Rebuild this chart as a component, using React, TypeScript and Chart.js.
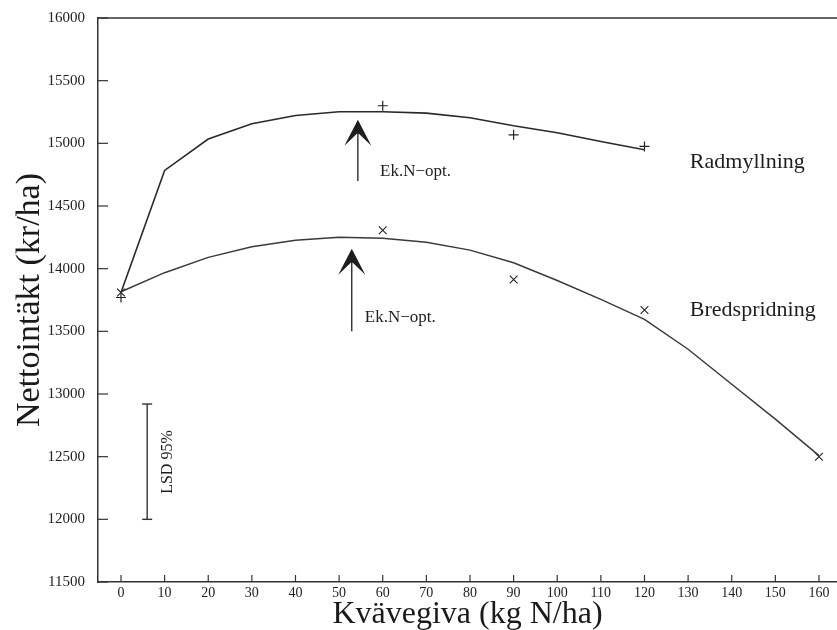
import { useEffect, useRef } from 'react';
import { Chart, registerables } from 'chart.js';

Chart.register(...registerables);

// ---- data ----
const radCurveX = [0, 10, 20, 30, 40, 50, 60, 70, 80, 90, 100, 110, 120];
const radCurveY = [13810, 14784, 15034, 15156, 15222, 15252, 15252, 15241, 15204, 15140, 15084, 15015, 14949];
const bredCurveX = [0, 10, 20, 30, 40, 50, 60, 70, 80, 90, 100, 110, 120, 130, 140, 150, 160];
const bredCurveY = [13816, 13968, 14090, 14175, 14227, 14251, 14243, 14211, 14148, 14047, 13906, 13755, 13596, 13357, 13078, 12800, 12508];
const radObsX = [0, 60, 90, 120];
const radObsY = [13770, 15300, 15068, 14975];
const bredObsX = [0, 60, 90, 120, 160];
const bredObsY = [13810, 14307, 13914, 13670, 12500];
const xTickValues = [0, 10, 20, 30, 40, 50, 60, 70, 80, 90, 100, 110, 120, 130, 140, 150, 160];
const yTickValues = [11500, 12000, 12500, 13000, 13500, 14000, 14500, 15000, 15500, 16000];
const optArrowX = [54.3, 52.9];
const optArrowFrom = [14700, 13500];
const optArrowTo = [15188, 14158];
const lsdX = [6, 6];
const lsdY = [12000, 12920];

const SERIF = '"Liberation Serif", "Times New Roman", serif';
const INK = '#1e1e1e';

// annotation layout (data-unit anchors)
const annotations = [
  { text: 'Radmyllning', x: 130.4, y: 14853, size: 22 },
  { text: 'Bredspridning', x: 130.4, y: 13667, size: 22 },
  { text: 'Ek.N\u2212opt.', x: 59.4, y: 14774, size: 17 },
  { text: 'Ek.N\u2212opt.', x: 55.9, y: 13611, size: 17 },
];
const lsdLabel = { text: 'LSD 95%', x: 10.8, y: 12457, size: 16 };

const toPts = (xs: number[], ys: number[]) => xs.map((x, i) => ({ x, y: ys[i] }));

const framePlugin = {
  id: 'frameAndTicks',
  afterDatasetsDraw(chart: any) {
    const { ctx, chartArea, scales } = chart;
    const xs = scales.x;
    const ys = scales.y;
    ctx.save();
    ctx.strokeStyle = '#333';
    ctx.lineWidth = 1.5;
    // top frame line
    ctx.beginPath();
    ctx.moveTo(chartArea.left, chartArea.top);
    ctx.lineTo(chartArea.right, chartArea.top);
    ctx.stroke();
    // inward ticks
    ctx.lineWidth = 1.2;
    xs.ticks.forEach((t: any) => {
      const px = xs.getPixelForValue(t.value);
      ctx.beginPath();
      ctx.moveTo(px, chartArea.bottom);
      ctx.lineTo(px, chartArea.bottom - 7);
      ctx.stroke();
    });
    ys.ticks.forEach((t: any) => {
      const py = ys.getPixelForValue(t.value);
      ctx.beginPath();
      ctx.moveTo(chartArea.left, py);
      ctx.lineTo(chartArea.left + 10, py);
      ctx.stroke();
    });
    // arrowheads
    ctx.fillStyle = INK;
    optArrowX.forEach((xv, i) => {
      const px = xs.getPixelForValue(xv);
      const py = ys.getPixelForValue(optArrowTo[i]);
      ctx.beginPath();
      ctx.moveTo(px, py);
      ctx.lineTo(px + 13.5, py + 26);
      ctx.lineTo(px + 1, py + 14);
      ctx.lineTo(px - 1, py + 14);
      ctx.lineTo(px - 13.5, py + 26);
      ctx.closePath();
      ctx.fill();
    });
    // text annotations
    ctx.fillStyle = INK;
    ctx.textBaseline = 'middle';
    ctx.textAlign = 'left';
    annotations.forEach((a) => {
      ctx.font = `${a.size}px ${SERIF}`;
      ctx.fillText(a.text, xs.getPixelForValue(a.x), ys.getPixelForValue(a.y));
    });
    ctx.save();
    ctx.translate(xs.getPixelForValue(lsdLabel.x), ys.getPixelForValue(lsdLabel.y));
    ctx.rotate(-Math.PI / 2);
    ctx.textAlign = 'center';
    ctx.font = `${lsdLabel.size}px ${SERIF}`;
    ctx.fillText(lsdLabel.text, 0, 0);
    ctx.restore();
    ctx.restore();
  },
};

export default function App() {
  const ref = useRef<HTMLCanvasElement | null>(null);

  useEffect(() => {
    document.body.style.margin = '0';
    const canvas = ref.current;
    if (!canvas) return;
    const lineBase = { showLine: true, pointRadius: 0, tension: 0, fill: false };
    const chart = new Chart(canvas, {
      type: 'scatter',
      data: {
        datasets: [
          { ...lineBase, label: 'Radmyllning kurva', data: toPts(radCurveX, radCurveY), borderColor: '#2a2a2a', borderWidth: 1.6 },
          { ...lineBase, label: 'Bredspridning kurva', data: toPts(bredCurveX, bredCurveY), borderColor: '#3a3a3a', borderWidth: 1.5 },
          { label: 'Radmyllning', data: toPts(radObsX, radObsY), pointStyle: 'cross', pointRadius: 5, borderColor: '#222', backgroundColor: '#222', borderWidth: 1.2, showLine: false },
          { label: 'Bredspridning', data: toPts(bredObsX, bredObsY), pointStyle: 'crossRot', pointRadius: 5.5, borderColor: '#222', backgroundColor: '#222', borderWidth: 1.1, showLine: false },
          { ...lineBase, label: 'opt1', data: [{ x: optArrowX[0], y: optArrowFrom[0] }, { x: optArrowX[0], y: optArrowTo[0] - 60 }], borderColor: INK, borderWidth: 1.3 },
          { ...lineBase, label: 'opt2', data: [{ x: optArrowX[1], y: optArrowFrom[1] }, { x: optArrowX[1], y: optArrowTo[1] - 60 }], borderColor: INK, borderWidth: 1.3 },
          { label: 'LSD', data: toPts(lsdX, lsdY), showLine: true, pointStyle: 'line', pointRadius: 5, borderColor: '#333', backgroundColor: '#333', borderWidth: 1.4, tension: 0 },
        ],
      },
      options: {
        responsive: false,
        animation: false,
        events: [],
        layout: { autoPadding: false, padding: { top: 18, right: 0, left: 0, bottom: 0 } },
        plugins: { legend: { display: false }, tooltip: { enabled: false } },
        scales: {
          x: {
            type: 'linear',
            min: -5.27,
            max: 164.13,
            afterBuildTicks: (s: any) => { s.ticks = xTickValues.map((v) => ({ value: v })); },
            afterFit: (s: any) => { s.height = 48; s.paddingLeft = 0; s.paddingRight = 0; },
            grid: { display: false, drawTicks: false },
            border: { display: true, color: '#333', width: 1.5 },
            ticks: { font: { family: SERIF, size: 14 }, color: '#222', padding: 3, maxRotation: 0, autoSkip: false, callback: (v: any) => String(v) },
            title: { display: true, text: 'Kvävegiva (kg N/ha)', font: { family: SERIF, size: 32, lineHeight: 1 }, color: '#1a1a1a', padding: { top: 0, bottom: -1 } },
          },
          y: {
            type: 'linear',
            min: 11500,
            max: 16000,
            afterBuildTicks: (s: any) => { s.ticks = yTickValues.map((v) => ({ value: v })); },
            afterFit: (s: any) => { s.width = 98; s.paddingTop = 0; s.paddingBottom = 0; },
            grid: { display: false, drawTicks: false },
            border: { display: true, color: '#333', width: 1.5 },
            ticks: { font: { family: SERIF, size: 15 }, color: '#222', padding: 13, autoSkip: false, callback: (v: any) => String(v) },
            title: { display: true, text: 'Nettointäkt (kr/ha)', font: { family: SERIF, size: 34, lineHeight: 1 }, color: '#1a1a1a', padding: { top: 13, bottom: 0 } },
          },
        },
      },
      plugins: [framePlugin],
    } as any);
    return () => chart.destroy();
  }, []);

  return (
    <div style={{ width: 837, height: 630 }}>
      <canvas ref={ref} width={837} height={630} style={{ display: 'block' }} />
    </div>
  );
}
